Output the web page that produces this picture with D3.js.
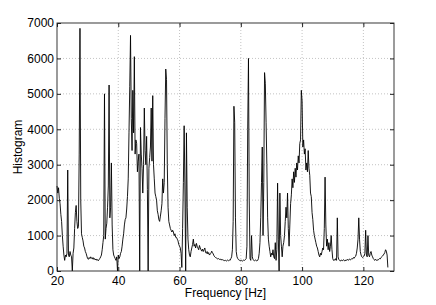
<!DOCTYPE html>
<html>
<head>
<meta charset="utf-8">
<script src="https://cdn.jsdelivr.net/npm/d3@7"></script>
<style>
  body { margin: 0; background: #fff; }
  svg { display: block; }
  text { font-family: "Liberation Sans", Arial, Helvetica, sans-serif; }
</style>
</head>
<body>
<svg id="chart"></svg>
<script>
// histogram values, 0.25 Hz apart, one row per Hz
const freqStep = 0.25;

const seg20Start = 20;
const seg20 = [
  2400, 2200, 2350, 2050,   // 20
  1900, 1600, 1400, 1000,   // 21
  700, 450, 300, 450,       // 22
  400, 500, 2850, 450,      // 23
  400, 550, 450, 400,       // 24
  0, 500, 650, 1200,        // 25
  1650, 1850, 1400, 1200,   // 26
  1250, 3300, 6850, 2000,   // 27
  1050, 950, 850, 700,      // 28
  650, 550, 500, 420,       // 29
  350, 330, 380, 350,       // 30
  400, 360, 340, 380,       // 31
  330, 350, 310, 340,       // 32
  300, 320, 290, 330,       // 33
  350, 400, 450, 600,       // 34
  800, 1000, 5000, 900,     // 35
  1200, 1350, 1800, 2400,   // 36
  5250, 1500, 1800, 3050,   // 37
  1300, 600, 450, 400,      // 38
  350, 300, 400, 0,         // 39
  450, 350, 400, 500,       // 40
  550, 700, 900, 1050,      // 41
  1300, 1450, 1500, 1750,   // 42
  2100, 2600, 3900, 5200,   // 43
  6650, 4300, 3400, 5100,   // 44
  3900, 6050, 3300, 3700,   // 45
  3600, 2800, 3100, 3300,   // 46
  0, 4050, 3300, 2900,      // 47
  2200, 3000, 4600, 3400,   // 48
  3000, 3800, 2300, 0,      // 49
  2900, 3200, 3500, 4600,   // 50
  3100, 4950, 3000, 2600,   // 51
  2200, 2100, 2000, 1700,   // 52
  1600, 1450, 1400, 1550,   // 53
  1700, 1900, 2600, 2200,   // 54
  2500, 4300, 5700, 5400,   // 55
  3000, 1800, 1400, 1300    // 56
];

const seg57Start = 57;
const seg57 = [
  1200, 1150, 1100, 1150,   // 57
  1100, 1000, 1050, 950,    // 58
  950, 900, 850, 750,       // 59
  700, 650, 500, 100,       // 60
  1200, 2500, 4100, 2400,   // 61
  0, 3900, 1800, 900,       // 62
  600, 450, 400, 550,       // 63
  650, 750, 900, 700,       // 64
  750, 650, 780, 700,       // 65
  650, 600, 720, 650,       // 66
  600, 560, 620, 550,       // 67
  600, 650, 520, 500,       // 68
  550, 480, 520, 450,       // 69
  480, 500, 560, 520,       // 70
  480, 430, 400, 380,       // 71
  370, 350, 340, 350,       // 72
  330, 320, 340, 310,       // 73
  320, 300, 310, 290,       // 74
  300, 280, 300, 310        // 75
];

const seg76Start = 76;
const seg76 = [
  290, 310, 300, 350,       // 76
  400, 600, 1400, 4650,     // 77
  4200, 1500, 550, 400,     // 78
  350, 320, 300, 310,       // 79
  290, 300, 280, 300,       // 80
  310, 300, 320, 350,       // 81
  700, 4000, 6000, 2000,    // 82
  350, 300, 1000, 400,      // 83
  320, 300, 290, 310,       // 84
  300, 280, 300, 350,       // 85
  500, 800, 1500, 2500,     // 86
  3500, 1000, 2500, 5600,   // 87
  5300, 4200, 3000, 1500,   // 88
  900, 700, 550, 400,       // 89
  500, 450, 600, 400,       // 90
  350, 800, 300, 600,       // 91
  2480, 900, 0, 2200,       // 92
  1000, 700, 400, 700,      // 93
  800, 1000, 1400, 1800,    // 94
  1500, 2200, 1200, 700     // 95
];

const seg96Start = 96;
const seg96 = [
  1300, 1900, 2150, 2600,   // 96
  2350, 2800, 2500, 2900,   // 97
  2650, 3050, 2850, 3250,   // 98
  3050, 3600, 3700, 5100,   // 99
  4800, 3500, 3700, 3300,   // 100
  3450, 2850, 3050, 2800,   // 101
  3400, 2900, 2700, 2200,   // 102
  2100, 1650, 1450, 1150,   // 103
  1000, 900, 800, 700,      // 104
  650, 550, 450, 400,       // 105
  500, 450, 550, 650,       // 106
  600, 1200, 2650, 1300,    // 107
  700, 900, 600, 800,       // 108
  550, 700, 1000, 600,      // 109
  350, 300, 320, 300,       // 110
  350, 300, 1500, 400,      // 111
  320, 300, 280, 310,       // 112
  300, 290, 320, 300,       // 113
  280, 310, 300, 330,       // 114
  300, 320, 340, 310,       // 115
  330, 350, 340, 380,       // 116
  360, 400, 420, 500,       // 117
  650, 900, 1500, 900,      // 118
  550, 450, 400, 380,       // 119
  400, 420, 500, 1150,      // 120
  450, 400, 1000, 450,      // 121
  400, 500, 550, 450,       // 122
  400, 350, 320, 300,       // 123
  330, 300, 320, 300,       // 124
  330, 350, 340, 380,       // 125
  400, 420, 450, 480,       // 126
  520, 600, 560, 450,       // 127
  100                       // 128
];

const xTicks = [20, 40, 60, 80, 100, 120];
const yTicks = [0, 1000, 2000, 3000, 4000, 5000, 6000, 7000];
const xLabel = 'Frequency [Hz]';
const yLabel = 'Histogram';

const width = 436, height = 305;
const margin = { top: 23, right: 42, bottom: 34, left: 57 };

const svg = d3.select('#chart')
  .attr('width', width)
  .attr('height', height);

svg.append('rect')
  .attr('width', width)
  .attr('height', height)
  .attr('fill', '#fff');

// build the point list from the segments
const points = [];
[[seg20Start, seg20], [seg57Start, seg57], [seg76Start, seg76], [seg96Start, seg96]]
  .forEach(([start, vals]) => {
    vals.forEach((v, i) => points.push({ f: start + i * freqStep, v: v }));
  });

const x = d3.scaleLinear()
  .domain([20, 130])
  .range([margin.left, width - margin.right]);

const y = d3.scaleLinear()
  .domain([0, 7000])
  .range([height - margin.bottom, margin.top]);

// dotted grid
const grid = svg.append('g');
grid.selectAll('.gx')
  .data(xTicks.filter(d => d > 20))
  .enter().append('line')
  .attr('x1', d => x(d)).attr('x2', d => x(d))
  .attr('y1', y(0)).attr('y2', y(7000))
  .attr('stroke', '#b4b4b4')
  .attr('stroke-width', 0.8)
  .attr('stroke-dasharray', '1,2');
grid.selectAll('.gy')
  .data(yTicks.filter(d => d > 0 && d < 7000))
  .enter().append('line')
  .attr('x1', x(20)).attr('x2', x(130))
  .attr('y1', d => y(d)).attr('y2', d => y(d))
  .attr('stroke', '#b4b4b4')
  .attr('stroke-width', 0.8)
  .attr('stroke-dasharray', '1,2');

// the histogram trace
const line = d3.line()
  .x(d => x(d.f))
  .y(d => y(d.v));

svg.append('path')
  .datum(points)
  .attr('fill', 'none')
  .attr('stroke', '#000')
  .attr('stroke-width', 0.9)
  .attr('stroke-linejoin', 'round')
  .attr('d', line);

// axes, ticks pointing inward like matlab
const axisFont = g => {
  g.select('.domain').remove();
  g.selectAll('.tick line').attr('stroke', '#222');
  g.selectAll('text')
    .attr('font-size', '12px')
    .attr('fill', '#000')
    .style('font-family', '"Liberation Sans", Arial, sans-serif');
};

svg.append('g')
  .attr('transform', `translate(0,${y(0)})`)
  .call(d3.axisBottom(x).tickValues(xTicks).tickSize(-4).tickPadding(5).tickFormat(d3.format('d')))
  .call(axisFont);

svg.append('g')
  .attr('transform', `translate(0,${y(7000)})`)
  .call(d3.axisTop(x).tickValues(xTicks).tickSize(-4).tickFormat(''))
  .call(axisFont);

svg.append('g')
  .attr('transform', `translate(${x(20)},0)`)
  .call(d3.axisLeft(y).tickValues(yTicks).tickSize(-4).tickPadding(3).tickFormat(d3.format('d')))
  .call(axisFont);

svg.append('g')
  .attr('transform', `translate(${x(130)},0)`)
  .call(d3.axisRight(y).tickValues(yTicks).tickSize(-4).tickFormat(''))
  .call(axisFont);

// box
svg.append('rect')
  .attr('x', x(20))
  .attr('y', y(7000))
  .attr('width', x(130) - x(20))
  .attr('height', y(0) - y(7000))
  .attr('fill', 'none')
  .attr('stroke', '#222')
  .attr('stroke-width', 0.9);

svg.append('text')
  .attr('x', (x(20) + x(130)) / 2)
  .attr('y', 297)
  .attr('text-anchor', 'middle')
  .attr('font-size', '12px')
  .text(xLabel);

svg.append('text')
  .attr('transform', `translate(22,${(y(0) + y(7000)) / 2}) rotate(-90)`)
  .attr('text-anchor', 'middle')
  .attr('font-size', '12px')
  .text(yLabel);
</script>
</body>
</html>
